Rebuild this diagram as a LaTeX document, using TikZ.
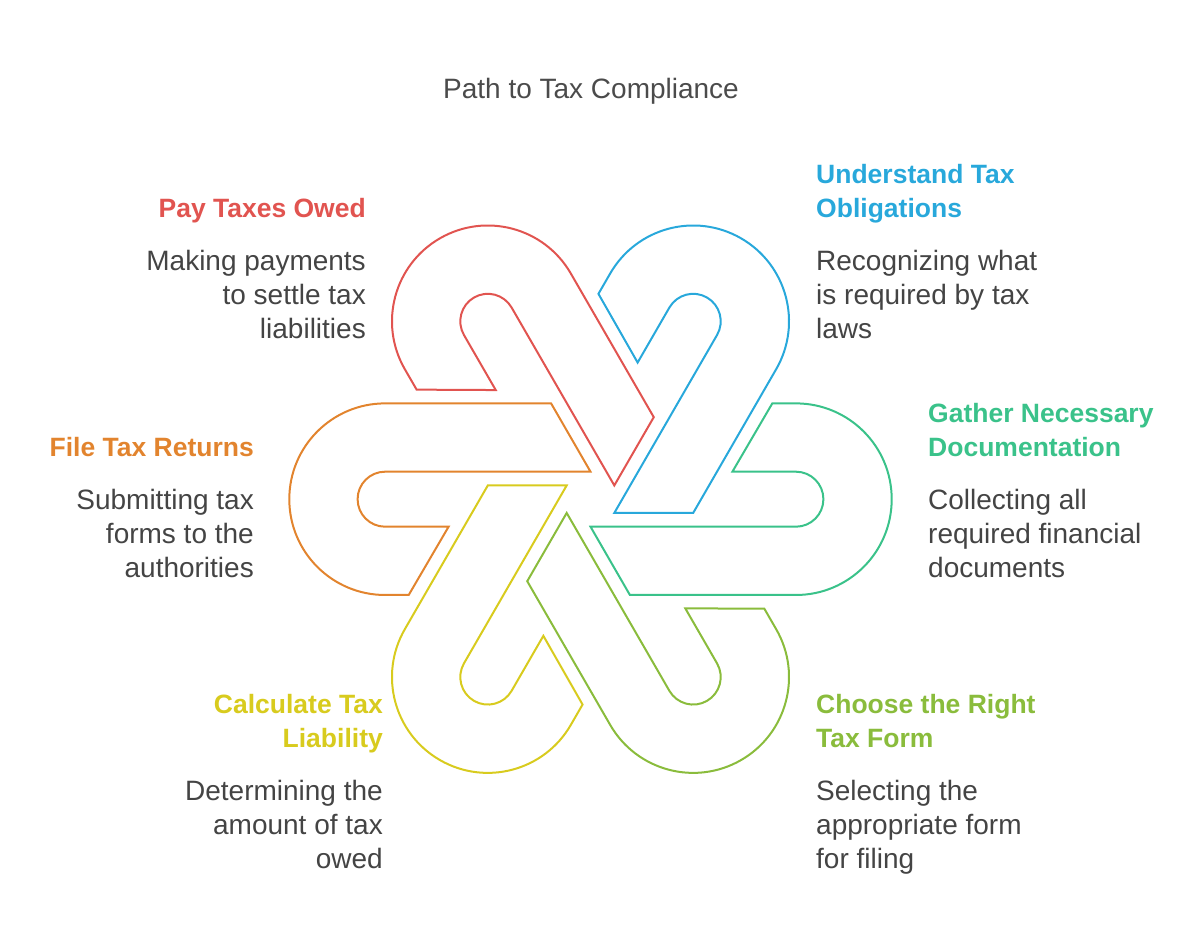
\documentclass[tikz,border=0pt]{standalone}
\usepackage{fontspec}
\setmainfont{Liberation Sans}
\definecolor{cred}{RGB}{225,84,80}
\definecolor{cblue}{RGB}{40,168,219}
\definecolor{cgreen}{RGB}{58,194,138}
\definecolor{clime}{RGB}{138,188,60}
\definecolor{cyellow}{RGB}{216,203,30}
\definecolor{corange}{RGB}{226,132,46}
\definecolor{ctext}{RGB}{68,68,68}
\definecolor{ctitle}{RGB}{75,75,75}
\tikzset{
  hookpic/.pic={
    \draw[line width=2pt, line join=miter, #1]
      (181.8,95.8) -- (205.4,95.8)
      arc[start angle=90, end angle=-90, radius=95.8]
      -- (39.4,-95.8) -- (0,-27.5) -- (205.4,-27.5)
      arc[start angle=-90, end angle=90, radius=27.5]
      -- (141.9,27.5) -- cycle;
  },
  headR/.style={anchor=north east, inner sep=0pt, align=right, font=\fontsize{26.5}{34}\selectfont\bfseries},
  headL/.style={anchor=north west, inner sep=0pt, align=left, font=\fontsize{26.5}{34}\selectfont\bfseries},
  bodyR/.style={anchor=north east, inner sep=0pt, align=right, text=ctext, font=\fontsize{28}{34}\selectfont},
  bodyL/.style={anchor=north west, inner sep=0pt, align=left, text=ctext, font=\fontsize{28}{34}\selectfont},
}
\newcommand\st{\rule{0pt}{25pt}}
\begin{document}
\begin{tikzpicture}[x=1pt, y=1pt]
\useasboundingbox (0,0) rectangle (1200,942);
\coordinate (C) at (590.5,442.8);

\pic (hgreen) [rotate=0] at (C) {hookpic=cgreen};
\pic (hblue) [rotate=60] at (C) {hookpic=cblue};
\pic (hred) [rotate=120] at (C) {hookpic=cred};
\pic (horange) [rotate=180] at (C) {hookpic=corange};
\pic (hyellow) [rotate=240] at (C) {hookpic=cyellow};
\pic (hlime) [rotate=300] at (C) {hookpic=clime};

\node (title) [anchor=base, inner sep=0pt, text=ctitle, font=\fontsize{28}{34}\selectfont] at (591,843) {Path to Tax Compliance};

\node (payH) [headR, text=cred] at (366,749.5) {\st Pay Taxes Owed};
\node (payB) [bodyR] at (366,697) {\st Making payments\\to settle tax\\liabilities};

\node (undH) [headL, text=cblue] at (816,783.5) {\st Understand Tax\\Obligations};
\node (undB) [bodyL] at (816,697) {\st Recognizing what\\is required by tax\\laws};

\node (fileH) [headR, text=corange] at (254,510.5) {\st File Tax Returns};
\node (fileB) [bodyR] at (254,458) {\st Submitting tax\\forms to the\\authorities};

\node (gatH) [headL, text=cgreen] at (928,544.5) {\st Gather Necessary\\Documentation};
\node (gatB) [bodyL] at (928,458) {\st Collecting all\\required financial\\documents};

\node (calH) [headR, text=cyellow] at (383,253.5) {\st Calculate Tax\\Liability};
\node (calB) [bodyR] at (383,167) {\st Determining the\\amount of tax\\owed};

\node (choH) [headL, text=clime] at (816,253.5) {\st Choose the Right\\Tax Form};
\node (choB) [bodyL] at (816,167) {\st Selecting the\\appropriate form\\for filing};
\end{tikzpicture}
\end{document}
